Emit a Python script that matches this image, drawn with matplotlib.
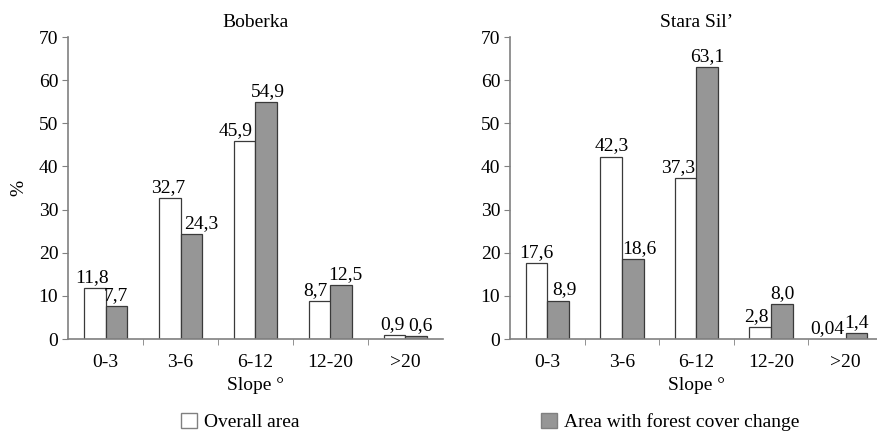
import matplotlib
matplotlib.use("Agg")
import matplotlib.pyplot as plt
import matplotlib.patches as mpatches
import numpy as np

categories = ["0-3", "3-6", "6-12", "12-20", ">20"]
boberka_overall = [11.8, 32.7, 45.9, 8.7, 0.9]
boberka_change = [7.7, 24.3, 54.9, 12.5, 0.6]
stara_overall = [17.6, 42.3, 37.3, 2.8, 0.04]
stara_change = [8.9, 18.6, 63.1, 8.0, 1.4]
boberka_overall_lbl = ["11,8", "32,7", "45,9", "8,7", "0,9"]
boberka_change_lbl = ["7,7", "24,3", "54,9", "12,5", "0,6"]
stara_overall_lbl = ["17,6", "42,3", "37,3", "2,8", "0,04"]
stara_change_lbl = ["8,9", "18,6", "63,1", "8,0", "1,4"]
titles = ["Boberka", "Stara Sil\u2019"]
legend_labels = ["Overall area", "Area with forest cover change"]

# horizontal nudges of the value labels (pixels), layout only
boberka_overall_dx = [-3, -1, -9, -4.5, -2.5]
boberka_change_dx = [0, 9.5, 2, 4, 4]
stara_overall_dx = [0, 1, -8, -4, -8]
stara_change_dx = [6, 7, 0, 1, 0]

plt.rcParams['font.family'] = ['Liberation Serif', 'DejaVu Serif']

W, H = 878, 434
fig = plt.figure(figsize=(W / 100, H / 100), dpi=100)

GRAY = "#969696"
EDGE = "#3a3a3a"
SPINE = "#808080"
FS = 14

def px(x0, y0, x1, y1):
    return [x0 / W, 1 - y1 / H, (x1 - x0) / W, (y1 - y0) / H]

axes = [fig.add_axes(px(68, 37, 443, 339)), fig.add_axes(px(510, 37, 883, 339))]
data = [(boberka_overall, boberka_change, boberka_overall_lbl, boberka_change_lbl,
         boberka_overall_dx, boberka_change_dx),
        (stara_overall, stara_change, stara_overall_lbl, stara_change_lbl,
         stara_overall_dx, stara_change_dx)]

bw = 0.29
x = np.arange(len(categories))
for i, (ax, (ov, ch, ovl, chl, ovd, chd)) in enumerate(zip(axes, data)):
    b1 = ax.bar(x - bw / 2, ov, bw, color="white", edgecolor=EDGE, linewidth=0.9)
    b2 = ax.bar(x + bw / 2, ch, bw, color=GRAY, edgecolor=EDGE, linewidth=0.9)
    for bars, lbls, dxs in ((b1, ovl, ovd), (b2, chl, chd)):
        for rect, lbl, dx in zip(bars, lbls, dxs):
            ax.annotate(lbl, (rect.get_x() + rect.get_width() / 2, rect.get_height()),
                        xytext=(dx * 0.72, 1.5), textcoords="offset points",
                        ha="center", va="bottom", fontsize=FS, annotation_clip=False)
    ax.set_xlim(-0.5, len(categories) - 0.5)
    ax.set_ylim(0, 70)
    ax.set_yticks(range(0, 71, 10))
    ax.set_xticks(x)
    ax.set_xticklabels(categories, fontsize=FS)
    ax.set_xticks(np.arange(0.5, len(categories) - 0.5, 1), minor=True)
    ax.tick_params(axis='x', which='major', length=0, pad=11)
    ax.tick_params(axis='x', which='minor', length=4, color=SPINE, direction='out')
    ax.tick_params(axis='y', length=4, color=SPINE, labelsize=FS, pad=3)
    for s in ["top", "right"]:
        ax.spines[s].set_visible(False)
    for s in ["left", "bottom"]:
        ax.spines[s].set_color(SPINE)
        ax.spines[s].set_linewidth(1.2)
    ax.set_title(titles[i], fontsize=FS, pad=7)
    ax.set_xlabel("Slope \u00b0", fontsize=FS, labelpad=4)

axes[0].set_ylabel("%", fontsize=FS, labelpad=8)

h1 = mpatches.Patch(facecolor="white", edgecolor=SPINE, label=legend_labels[0])
h2 = mpatches.Patch(facecolor=GRAY, edgecolor=SPINE, label=legend_labels[1])
for h, xc in ((h1, 240), (h2, 670)):
    fig.legend(handles=[h], loc='center', bbox_to_anchor=(xc / W, 1 - 422 / H),
               frameon=False, fontsize=FS, handlelength=0.85, handleheight=0.85,
               handletextpad=0.35, borderpad=0, borderaxespad=0)

fig.savefig("out.png", dpi=100)
